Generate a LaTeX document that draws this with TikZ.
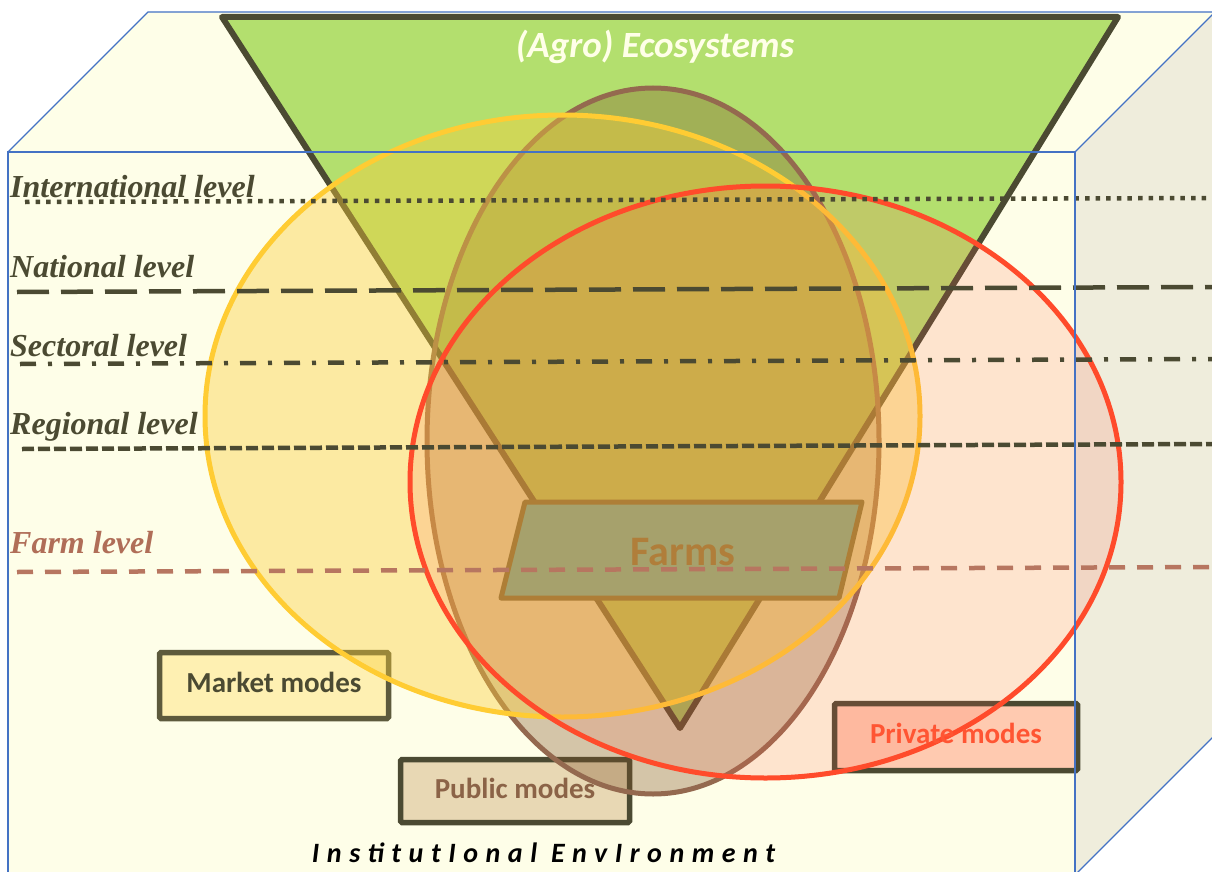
\documentclass[tikz,border=0pt]{standalone}
\usepackage{fontspec}
\setmainfont{Carlito}
\newfontfamily\levelfont{Liberation Serif}
\newfontfamily\spacedfont[LetterSpace=27]{Carlito}
\definecolor{cream}{RGB}{254,254,232}
\definecolor{sideface}{RGB}{239,237,220}
\definecolor{cubeblue}{RGB}{68,114,196}
\definecolor{olive}{RGB}{75,74,50}
\definecolor{marketline}{RGB}{93,90,60}
\definecolor{trigreen}{RGB}{179,223,110}
\definecolor{yfill}{RGB}{250,205,57}
\definecolor{yline}{RGB}{255,204,51}
\definecolor{bfill}{RGB}{127,81,38}
\definecolor{bline}{RGB}{148,105,79}
\definecolor{rfill}{RGB}{254,98,76}
\definecolor{rline}{RGB}{255,75,43}
\definecolor{farmfill}{RGB}{166,161,108}
\definecolor{farmline}{RGB}{174,126,54}
\definecolor{farmtext}{RGB}{176,126,58}
\definecolor{farmlevel}{RGB}{176,110,88}
\definecolor{farmdash}{RGB}{183,118,96}
\definecolor{marketfill}{RGB}{254,240,178}
\definecolor{publicfill}{RGB}{232,216,180}
\definecolor{publictext}{RGB}{139,99,71}
\definecolor{privatefill}{RGB}{255,202,176}
\definecolor{privatetext}{RGB}{255,85,51}
\definecolor{titlecol}{RGB}{255,255,232}
\begin{document}
\begin{tikzpicture}[x=1pt,y=-1pt,
  cubeline/.style={draw=cubeblue,line width=1.2pt},
  levelline/.style={draw=olive,line width=4.5pt},
  leveltext/.style={inner sep=0pt,anchor=base west,font=\levelfont\bfseries\itshape\fontsize{32}{36}\selectfont,text=olive},
  modebox/.style={draw=olive,line width=5.5pt,rounded corners=1.5pt,inner sep=0pt},
  modetext/.style={inner sep=0pt,anchor=base,font=\bfseries\fontsize{29}{33}\selectfont},
  ell/.style={line width=5pt,fill opacity=#1},
]
\useasboundingbox (0,0) rectangle (1212,872);
\clip (0,0) rectangle (1212,872);
\fill[white] (0,0) rectangle (1212,872);
% cube faces
\fill[cream] (8,152) rectangle (1075,880);
\fill[cream] (8,152) -- (148,12) -- (1217,12) -- (1075,152) -- cycle;
\fill[sideface] (1075,152) -- (1217,10) -- (1217,733) -- (1075,875) -- cycle;
% ecosystem triangle
\draw[fill=trigreen,draw=olive,line width=6pt,line join=round] (222,17) -- (1118,17) -- (680,728) -- cycle;
% mode boxes
\node[modebox,draw=marketline,fill=marketfill,minimum width=229pt,minimum height=66pt] (marketbox) at (274,685.5) {};
\node[modebox,fill=publicfill,minimum width=229pt,minimum height=63pt] (publicbox) at (515,791) {};
\node[modebox,fill=privatefill,minimum width=243pt,minimum height=67pt] (privatebox) at (956,737) {};
% ellipses
\path[ell=0.33,fill=bfill,draw=bline] (653,441) ellipse [x radius=226,y radius=353];
\path[ell=0.40,fill=yfill,draw=yline] (562.5,416) ellipse [x radius=357.5,y radius=301];
\path[ell=0.16,fill=rfill,draw=rline] (765.5,482) ellipse [x radius=355.5,y radius=296];
% farms
\draw[fill=farmfill,draw=farmline,line width=5pt,line join=round] (525,502) -- (862,502) -- (839,598) -- (501,598) -- cycle;
\node[inner sep=0pt,anchor=base,font=\bfseries\fontsize{42}{46}\selectfont,text=farmtext] (farms) at (683,565) {Farms};
% level lines
\draw[levelline,dash pattern=on 4.5pt off 6.1pt] (25,202) -- (1212,198);
\draw[levelline,dash pattern=on 32pt off 12pt] (17,292) -- (1212,287);
\draw[levelline,dash pattern=on 16pt off 12pt on 4pt off 12pt] (20,364) -- (1212,359);
\draw[levelline,dash pattern=on 12pt off 4pt] (22,449) -- (1212,444);
\draw[levelline,draw=farmdash,dash pattern=on 16pt off 12pt] (17,572) -- (1212,567);
% cube edges
\draw[cubeline] (8,880) -- (8,152) -- (1075,152) -- (1075,880);
\draw[cubeline] (8,152) -- (148,12) -- (1220,12);
\draw[cubeline] (1075,152) -- (1220,7);
\draw[cubeline] (1075,875) -- (1220,730);
% labels
\node[leveltext] (intl) at (10,197) {International level};
\node[leveltext] (natl) at (10,277) {National level};
\node[leveltext] (sect) at (10,356) {Sectoral level};
\node[leveltext] (regl) at (10,434) {Regional level};
\node[leveltext,text=farmlevel] (farml) at (10,553) {Farm level};
\node[inner sep=0pt,anchor=base,font=\bfseries\itshape\fontsize{37}{41}\selectfont,text=titlecol] (title) at (655,58) {(Agro) Ecosystems};
\node[modetext,text=olive] (markettext) at (274,692) {Market modes};
\node[modetext,text=publictext] (publictext) at (515,798) {Public modes};
\node[modetext,text=privatetext] (privatetext) at (956,743) {Private modes};
\node[inner sep=0pt,anchor=base,font=\spacedfont\bfseries\itshape\fontsize{28}{32}\selectfont,text=black] (inst) at (543.5,862) {InstitutIonal EnvIronment};
\end{tikzpicture}
\end{document}
